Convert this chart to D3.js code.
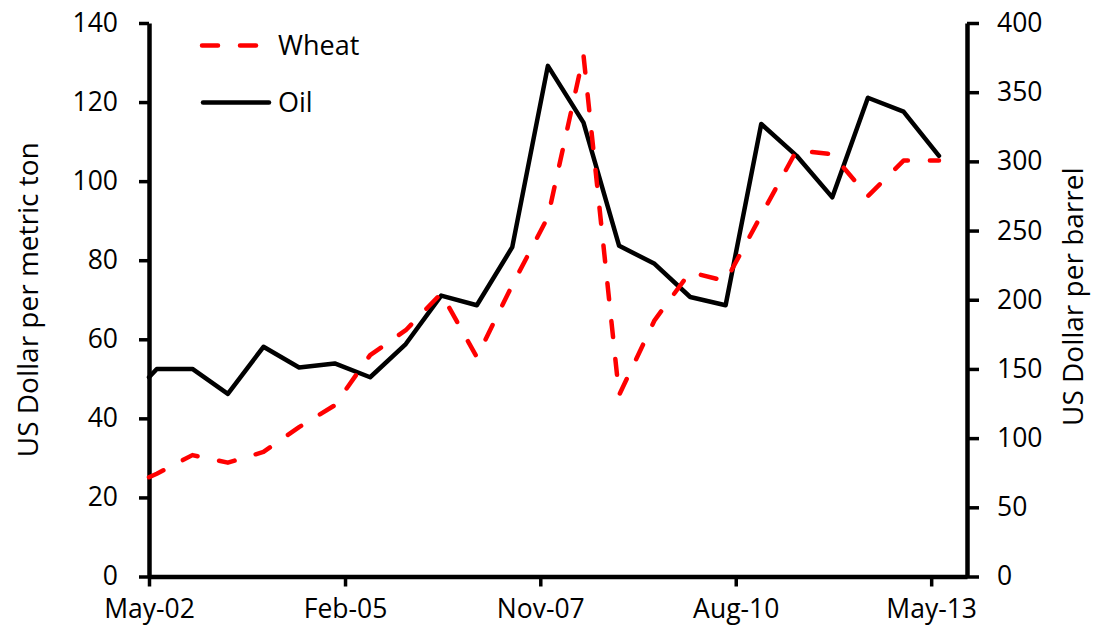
<!DOCTYPE html>
<html>
<head>
<meta charset="utf-8">
<script src="https://cdn.jsdelivr.net/npm/d3@7"></script>
<style>
	body { margin: 0; background: #fff; }
	svg { display: block; font-family: "Open Sans", Lato, sans-serif; }
</style>
</head>
<body>
<svg id="chart" width="1094" height="634"></svg>
<script>
	"use strict";

	/***** Data *****/

	// Observation dates (semi-annual)
	var dates = [
		"2002-05-01", "2002-06-10", "2002-12-10", "2003-06-10", "2003-12-10",
		"2004-06-10", "2004-12-10", "2005-06-10", "2005-12-10", "2006-06-10",
		"2006-12-10", "2007-06-10", "2007-12-10", "2008-06-10", "2008-12-10",
		"2009-06-10", "2009-12-10", "2010-06-10", "2010-12-10", "2011-06-10",
		"2011-12-10", "2012-06-10", "2012-12-10", "2013-06-10"
	];

	// Wheat, US Dollar per metric ton (left axis)
	var wheat = [
		25.1, 26.0, 30.7, 28.8, 31.5, 37.8, 43.3, 56.0, 62.3, 71.6,
		55.5, 73.7, 90.9, 131.8, 45.9, 64.8, 77.0, 74.7, 91.4, 107.8,
		106.8, 96.2, 105.2, 105.2
	];

	// Oil, US Dollar per barrel (right axis)
	var oil = [
		144, 150, 150, 132, 166, 151, 154, 144, 168, 203,
		196, 238, 369, 328, 239, 226, 202, 196, 327, 304,
		274, 346, 336, 304
	];

	// Axis settings
	var xDomain = ["2002-05-01", "2013-11-01"];
	var xTicks = ["2002-05-01", "2005-02-01", "2007-11-01", "2010-08-01", "2013-05-01"];
	var leftTicks = [0, 20, 40, 60, 80, 100, 120, 140];
	var rightTicks = [0, 50, 100, 150, 200, 250, 300, 350, 400];

	var seriesNames = ["Wheat", "Oil"];
	var leftTitle = "US Dollar per metric ton";
	var rightTitle = "US Dollar per barrel";

	/***** Layout *****/
	const plotLeft = 149;
	const plotRight = 967;
	const plotTop = 23;
	const plotBottom = 576.5;
	const fontSize = 26.5;
	const titleSize = 28;
	const lineW = 4.5;

	var parse = d3.timeParse("%Y-%m-%d");
	var fmt = d3.timeFormat("%b-%y");

	var svg = d3.select("#chart");

	// Scales
	var x = d3.scaleTime()
		.domain(xDomain.map(parse))
		.range([plotLeft, plotRight]);
	var yLeft = d3.scaleLinear().domain([0, 140]).range([plotBottom, plotTop]);
	var yRight = d3.scaleLinear().domain([0, 400]).range([plotBottom, plotTop]);

	/***** Axes *****/
	function styleAxis(g) {
		g.select(".domain").attr("stroke", "#000").attr("stroke-width", lineW);
		g.selectAll(".tick line").attr("stroke", "#000").attr("stroke-width", 3.5);
		g.selectAll(".tick text")
			.attr("fill", "#000")
			.style("font-size", fontSize + "px")
			.style("font-family", "'Open Sans', Lato, sans-serif");
	}

	var xAxis = d3.axisBottom(x)
		.tickValues(xTicks.map(parse))
		.tickFormat(fmt)
		.tickSize(10)
		.tickSizeOuter(0)
		.tickPadding(13);
	svg.append("g")
		.attr("transform", "translate(0," + plotBottom + ")")
		.call(xAxis)
		.call(styleAxis);

	var leftAxis = d3.axisLeft(yLeft)
		.tickValues(leftTicks)
		.tickSize(10)
		.tickSizeOuter(0)
		.tickPadding(21);
	svg.append("g")
		.attr("transform", "translate(" + plotLeft + ",0)")
		.call(leftAxis)
		.call(styleAxis);

	var rightAxis = d3.axisRight(yRight)
		.tickValues(rightTicks)
		.tickSize(12)
		.tickSizeOuter(0)
		.tickPadding(18);
	svg.append("g")
		.attr("transform", "translate(" + plotRight + ",0)")
		.call(rightAxis)
		.call(styleAxis);

	// Axis titles
	svg.append("text")
		.attr("transform", "translate(38," + (plotTop + plotBottom) / 2 + ") rotate(-90)")
		.attr("text-anchor", "middle")
		.style("font-size", titleSize + "px")
		.text(leftTitle);

	svg.append("text")
		.attr("transform", "translate(1083," + ((plotTop + plotBottom) / 2 - 3) + ") rotate(-90)")
		.attr("text-anchor", "middle")
		.style("font-size", titleSize + "px")
		.text(rightTitle);

	/***** Lines *****/
	var pts = dates.map(function (d, i) {
		return { date: parse(d), wheat: wheat[i], oil: oil[i] };
	});

	var oilLine = d3.line()
		.x(function (d) { return x(d.date); })
		.y(function (d) { return yRight(d.oil); });

	var wheatLine = d3.line()
		.x(function (d) { return x(d.date); })
		.y(function (d) { return yLeft(d.wheat); });

	svg.append("path")
		.datum(pts)
		.attr("d", oilLine)
		.attr("fill", "none")
		.attr("stroke", "#000")
		.attr("stroke-width", lineW)
		.attr("stroke-linejoin", "round")
		.attr("stroke-linecap", "round");

	svg.append("path")
		.datum(pts)
		.attr("d", wheatLine)
		.attr("fill", "none")
		.attr("stroke", "#ff0000")
		.attr("stroke-width", lineW)
		.attr("stroke-dasharray", "16,22")
		.attr("stroke-linejoin", "round")
		.attr("stroke-linecap", "round");

	/***** Legend *****/
	var legend = svg.append("g");

	legend.append("line")
		.attr("x1", 202).attr("x2", 256)
		.attr("y1", 45.5).attr("y2", 45.5)
		.attr("stroke", "#ff0000")
		.attr("stroke-width", lineW)
		.attr("stroke-dasharray", "16,22")
		.attr("stroke-linecap", "round");

	legend.append("line")
		.attr("x1", 203).attr("x2", 269)
		.attr("y1", 102.5).attr("y2", 102.5)
		.attr("stroke", "#000")
		.attr("stroke-width", lineW)
		.attr("stroke-linecap", "round");

	legend.selectAll("text.lg")
		.data(seriesNames)
		.enter().append("text")
		.attr("class", "lg")
		.attr("x", 278)
		.attr("y", function (d, i) { return i === 0 ? 45.5 : 102.5; })
		.attr("dy", "0.35em")
		.style("font-size", "27px")
		.text(function (d) { return d; });
</script>
</body>
</html>
